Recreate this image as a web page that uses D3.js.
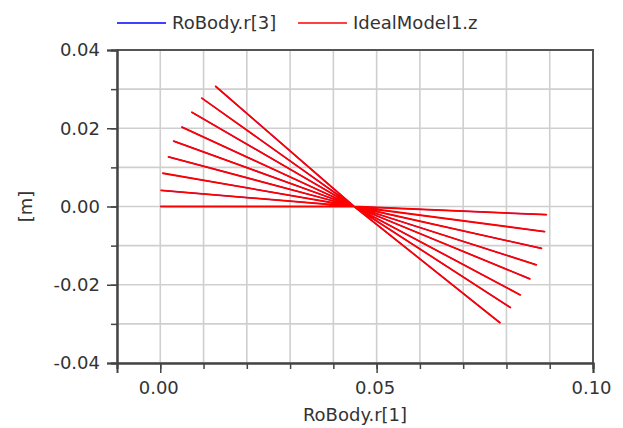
<!DOCTYPE html>
<html>
<head>
<meta charset="utf-8">
<script src="https://cdn.jsdelivr.net/npm/d3@7"></script>
<style>
  body { margin: 0; background: #fff; }
  text { font-family: "DejaVu Sans", sans-serif; fill: #333; }
</style>
</head>
<body>
<div id="chart"></div>
<script>
// RoBody.r[1] (x) and the z-coordinate (IdealModel1.z / RoBody.r[3]) of the swept rod
const r1 = [0.0000, 0.0448, 0.0892, 0.0448, 0.0002, 0.0448, 0.0888, 0.0448, 0.0006, 0.0448,
            0.0881, 0.0448, 0.0019, 0.0448, 0.0869, 0.0448, 0.0031, 0.0448, 0.0854, 0.0448,
            0.0050, 0.0448, 0.0832, 0.0448, 0.0073, 0.0448, 0.0809, 0.0448, 0.0096, 0.0448,
            0.0785, 0.0448, 0.0127];
const zVals = [0.0000, 0.0000, -0.0021, 0.0000, 0.0041, 0.0000, -0.0064, 0.0000, 0.0085, 0.0000,
               -0.0107, 0.0000, 0.0127, 0.0000, -0.0149, 0.0000, 0.0167, 0.0000, -0.0185, 0.0000,
               0.0203, 0.0000, -0.0226, 0.0000, 0.0241, 0.0000, -0.0258, 0.0000, 0.0277, 0.0000,
               -0.0297, 0.0000, 0.0308];
const r3 = zVals.slice();

const seriesNames = ["RoBody.r[3]", "IdealModel1.z"];
const seriesColors = ["#0000ff", "#ff0000"];
const xMajor = [0.00, 0.05, 0.10];
const yMajor = [-0.04, -0.02, 0.00, 0.02, 0.04];

const width = 623, height = 428;
const margin = { top: 50, right: 30, bottom: 65, left: 117 };

const svg = d3.select("#chart").append("svg")
    .attr("width", width)
    .attr("height", height);

const x = d3.scaleLinear().domain([-0.01, 0.10]).range([margin.left, width - margin.right]);
const y = d3.scaleLinear().domain([-0.04, 0.04]).range([height - margin.bottom, margin.top]);

const xMinor = d3.range(-0.01, 0.1001, 0.01);
const yMinor = d3.range(-0.04, 0.0401, 0.01);

// grid
const grid = svg.append("g");
grid.selectAll(".gx").data(xMinor).enter().append("line")
    .attr("x1", d => x(d)).attr("x2", d => x(d))
    .attr("y1", y(-0.04)).attr("y2", y(0.04))
    .attr("stroke", "#cfcfcf").attr("stroke-width", 1.6);
grid.selectAll(".gy").data(yMinor).enter().append("line")
    .attr("y1", d => y(d)).attr("y2", d => y(d))
    .attr("x1", x(-0.01)).attr("x2", x(0.10))
    .attr("stroke", "#cfcfcf").attr("stroke-width", 1.6);

// frame top/right
svg.append("path")
    .attr("d", `M${x(-0.01)},${y(0.04)}H${x(0.10)}V${y(-0.04)}`)
    .attr("fill", "none").attr("stroke", "#555").attr("stroke-width", 2);

// series
const pts = r1.map((v, i) => ({ x: v, z: zVals[i], r3: r3[i] }));
svg.append("path").datum(pts)
    .attr("d", d3.line().x(d => x(d.x)).y(d => y(d.r3)))
    .attr("fill", "none").attr("stroke", seriesColors[0]).attr("stroke-width", 1.2);
svg.append("path").datum(pts)
    .attr("d", d3.line().x(d => x(d.x)).y(d => y(d.z)))
    .attr("fill", "none").attr("stroke", seriesColors[1]).attr("stroke-width", 1.8)
    .attr("stroke-linejoin", "round");

// axes
const fmt = d => d3.format(".2f")(d).replace("\u2212", "-");
const xAxisMinor = d3.axisBottom(x).tickValues(xMinor).tickSize(6).tickFormat("");
const xAxis = d3.axisBottom(x).tickValues(xMajor).tickSize(10).tickPadding(8).tickFormat(fmt);
const yAxisMinor = d3.axisLeft(y).tickValues(yMinor).tickSize(6).tickFormat("");
const yAxis = d3.axisLeft(y).tickValues(yMajor).tickSize(10).tickPadding(7).tickFormat(fmt);

function styleAxis(g) {
  g.selectAll("path").attr("stroke", "#444").attr("stroke-width", 2);
  g.selectAll("line").attr("stroke", "#444").attr("stroke-width", 1.5);
  g.selectAll("text").style("font-size", "18px").attr("fill", "#3a3a3a")
    .style("font-family", "'DejaVu Sans', sans-serif");
}

svg.append("g").attr("transform", `translate(0,${y(-0.04)})`).call(xAxisMinor).call(styleAxis);
svg.append("g").attr("transform", `translate(0,${y(-0.04)})`).call(xAxis).call(styleAxis)
    .selectAll("text").attr("dx", -2);
svg.append("g").attr("transform", `translate(${x(-0.01)},0)`).call(yAxisMinor).call(styleAxis);
svg.append("g").attr("transform", `translate(${x(-0.01)},0)`).call(yAxis).call(styleAxis);

// axis titles
svg.append("text")
    .attr("x", 355).attr("y", 421)
    .attr("text-anchor", "middle")
    .style("font-size", "18px")
    .text("RoBody.r[1]");
svg.append("text")
    .attr("transform", `translate(32,${y(0)}) rotate(-90)`)
    .attr("text-anchor", "middle")
    .style("font-size", "18px")
    .text("[m]");

// legend
const legendX = [117, 298];
const legend = svg.append("g");
seriesNames.forEach((name, i) => {
  legend.append("line")
      .attr("x1", legendX[i]).attr("x2", legendX[i] + 49)
      .attr("y1", 23).attr("y2", 23)
      .attr("stroke", seriesColors[i]).attr("stroke-width", 1.5);
  legend.append("text")
      .attr("x", legendX[i] + 55).attr("y", 29)
      .style("font-size", "18px")
      .text(name);
});
</script>
</body>
</html>
